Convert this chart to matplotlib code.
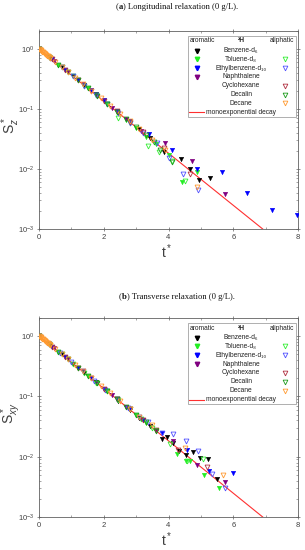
import numpy as np
import matplotlib.pyplot as plt
from matplotlib.patches import Rectangle
from matplotlib.ticker import FixedLocator

plt.rcParams['font.family'] = ['Liberation Sans', 'DejaVu Sans']
plt.rcParams['mathtext.fontset'] = 'custom'
plt.rcParams['mathtext.rm'] = 'Liberation Sans'
plt.rcParams['mathtext.it'] = 'Liberation Sans:italic'
plt.rcParams['mathtext.bf'] = 'Liberation Sans:bold'

# ---------------- data, panel (a): longitudinal ----------------
benzene_t_a = [0.0, 0.35, 0.7, 1.05, 1.4, 1.75, 2.1, 2.45, 2.8, 3.1, 3.43, 3.86, 4.38, 4.66, 4.94, 5.28]
benzene_s_a = [1.0, 0.70, 0.50, 0.35, 0.25, 0.175, 0.122, 0.087, 0.062, 0.046, 0.033, 0.019, 0.0147, 0.010, 0.0066, 0.0071]
toluene_t_a = [0.0, 0.3, 0.6, 0.9, 1.2, 1.5, 1.8, 2.1, 2.4, 2.7, 3.0, 3.3, 3.6, 4.0, 4.41, 4.88]
toluene_s_a = [1.0, 0.74, 0.55, 0.41, 0.30, 0.22, 0.165, 0.12, 0.09, 0.066, 0.048, 0.034, 0.026, 0.017, 0.006, 0.0089]
toluene_al_t_a = [0.0, 0.35, 0.7, 1.05, 1.4, 1.75, 2.1, 2.44, 2.8, 3.37, 3.7, 4.1, 4.5]
toluene_al_s_a = [1.0, 0.70, 0.50, 0.35, 0.245, 0.17, 0.12, 0.071, 0.058, 0.024, 0.019, 0.0135, 0.0063]
ethyl_t_a = [0.0, 0.4, 0.8, 1.2, 1.6, 2.0, 2.4, 2.8, 3.4, 4.1, 4.88, 5.65, 6.42, 7.19, 7.96]
ethyl_s_a = [1.0, 0.67, 0.45, 0.30, 0.205, 0.14, 0.093, 0.064, 0.038, 0.021, 0.010, 0.0089, 0.0040, 0.0021, 0.0017]
ethyl_al_t_a = [0.0, 0.35, 0.7, 1.05, 1.4, 1.75, 2.1, 2.45, 2.8, 3.2, 3.64, 4.0, 4.45, 4.9]
ethyl_al_s_a = [1.0, 0.70, 0.50, 0.35, 0.245, 0.17, 0.12, 0.085, 0.058, 0.040, 0.027, 0.015, 0.0083, 0.0045]
naph_t_a = [0.0, 0.45, 0.9, 1.35, 1.8, 2.25, 2.7, 3.15, 3.89, 4.72, 5.74]
naph_s_a = [1.0, 0.64, 0.41, 0.26, 0.165, 0.105, 0.068, 0.043, 0.027, 0.0135, 0.0038]
cyclo_t_a = [0.0, 0.4, 0.8, 1.2, 1.6, 2.0, 2.4, 2.8, 3.2, 3.85, 4.66]
cyclo_s_a = [1.0, 0.67, 0.45, 0.30, 0.20, 0.135, 0.092, 0.061, 0.041, 0.022, 0.0083]
decalin_t_a = [0.0, 0.3, 0.6, 0.9, 1.2, 1.5, 1.8, 2.1, 2.4, 2.7, 3.0, 3.3, 3.55, 3.75, 4.1]
decalin_s_a = [1.0, 0.74, 0.55, 0.41, 0.30, 0.22, 0.165, 0.12, 0.09, 0.067, 0.05, 0.037, 0.028, 0.021, 0.013]
decane_t_a = [0.0, 0.025, 0.05, 0.075, 0.1, 0.125, 0.15, 0.175, 0.2, 0.225, 0.25, 0.275, 0.3, 0.325, 0.35,
              0.5, 0.7, 0.9, 1.1, 1.35, 1.6, 1.9, 2.2, 2.5, 2.8, 3.1, 3.5, 3.9, 4.87]
decane_s_a = [1.0, 0.975, 0.951, 0.928, 0.905, 0.882, 0.861, 0.839, 0.819, 0.799, 0.779, 0.760, 0.741, 0.723, 0.705,
              0.61, 0.50, 0.41, 0.335, 0.26, 0.20, 0.15, 0.112, 0.083, 0.062, 0.046, 0.031, 0.021, 0.005]

# ---------------- data, panel (b): transverse ----------------
benzene_t_b = [0.0, 0.35, 0.7, 1.05, 1.4, 1.75, 2.1, 2.45, 2.8, 3.1, 3.43, 3.8, 3.95, 4.14, 4.32, 4.54, 4.75, 4.97, 5.22, 5.5]
benzene_s_b = [1.0, 0.70, 0.50, 0.35, 0.245, 0.172, 0.121, 0.085, 0.060, 0.044, 0.032, 0.020, 0.021, 0.017, 0.0126, 0.0107, 0.012, 0.0096, 0.0093, 0.0042]
toluene_t_b = [0.0, 0.3, 0.6, 0.9, 1.2, 1.5, 1.8, 2.1, 2.4, 2.7, 3.0, 3.3, 3.6, 4.26, 4.54, 4.66, 5.1, 5.56]
toluene_s_b = [1.0, 0.74, 0.55, 0.41, 0.30, 0.22, 0.165, 0.122, 0.09, 0.067, 0.049, 0.036, 0.028, 0.011, 0.0086, 0.0086, 0.005, 0.003]
toluene_al_t_b = [0.0, 0.35, 0.7, 1.05, 1.4, 1.75, 2.1, 2.45, 2.8, 3.15, 3.5, 4.04, 4.57, 5.06]
toluene_al_s_b = [1.0, 0.70, 0.50, 0.35, 0.245, 0.17, 0.122, 0.086, 0.061, 0.043, 0.030, 0.016, 0.0086, 0.0093]
ethyl_t_b = [0.0, 0.4, 0.8, 1.2, 1.6, 2.0, 2.4, 2.8, 3.2, 3.8, 4.57, 5.25, 5.99]
ethyl_s_b = [1.0, 0.67, 0.45, 0.30, 0.20, 0.135, 0.091, 0.061, 0.041, 0.025, 0.013, 0.0058, 0.0054]
ethyl_al_t_b = [0.0, 0.3, 0.65, 1.0, 1.35, 1.7, 2.05, 2.4, 2.75, 3.1, 3.38, 3.8, 4.14, 4.54, 4.92, 5.34, 5.74]
ethyl_al_s_b = [1.0, 0.74, 0.52, 0.37, 0.26, 0.183, 0.129, 0.091, 0.064, 0.045, 0.037, 0.025, 0.024, 0.018, 0.0126, 0.0052, 0.003]
naph_t_b = [0.0, 0.45, 0.9, 1.35, 1.8, 2.25, 2.7, 3.15, 3.6, 4.14, 4.88, 5.74]
naph_s_b = [1.0, 0.64, 0.41, 0.26, 0.165, 0.105, 0.067, 0.043, 0.027, 0.018, 0.0074, 0.0038]
cyclo_t_b = [0.0, 0.4, 0.8, 1.2, 1.6, 2.0, 2.4, 2.8, 3.2, 3.6, 4.29, 5.19]
cyclo_s_b = [1.0, 0.67, 0.45, 0.30, 0.20, 0.135, 0.091, 0.061, 0.041, 0.028, 0.013, 0.0068]
decalin_t_b = [0.0, 0.3, 0.6, 0.9, 1.2, 1.5, 1.8, 2.1, 2.4, 2.7, 3.0, 3.3, 3.6]
decalin_s_b = [1.0, 0.74, 0.55, 0.41, 0.30, 0.22, 0.165, 0.122, 0.091, 0.067, 0.050, 0.037, 0.027]
decane_t_b = [0.0, 0.025, 0.05, 0.075, 0.1, 0.125, 0.15, 0.175, 0.2, 0.225, 0.25, 0.275, 0.3, 0.325, 0.35,
              0.5, 0.7, 0.9, 1.1, 1.35, 1.6, 1.9, 2.2, 2.5, 2.8, 3.1, 3.5, 4.5, 5.68]
decane_s_b = [1.0, 0.975, 0.951, 0.928, 0.905, 0.882, 0.861, 0.839, 0.819, 0.799, 0.779, 0.760, 0.741, 0.723, 0.705,
              0.61, 0.50, 0.41, 0.335, 0.26, 0.20, 0.15, 0.112, 0.083, 0.062, 0.045, 0.033, 0.0141, 0.005]

# monoexponential decay exp(-t): straight on the log axis, given by its end points
mono_t = [0.0, 6.91]
mono_s = [1.0, 1.0e-3]

compounds = ['Benzene-d\u2086', 'Toluene-d\u2088', 'Ethylbenzene-d\u2081\u2080', 'Naphthalene',
             'Cyclohexane', 'Decalin', 'Decane']
aro_colors = ['black', '#22ee22', '#0000ff', '#800080', None, None, None]
ali_colors = [None, '#33ee33', '#5050ff', None, '#b03040', '#1a9a1a', '#ff9a30']

series_a = [(benzene_t_a, benzene_s_a, 'black', True),
            (toluene_t_a, toluene_s_a, '#22ee22', True),
            (ethyl_t_a, ethyl_s_a, '#0000ff', True),
            (naph_t_a, naph_s_a, '#800080', True),
            (toluene_al_t_a, toluene_al_s_a, '#33ee33', False),
            (ethyl_al_t_a, ethyl_al_s_a, '#5050ff', False),
            (cyclo_t_a, cyclo_s_a, '#b03040', False),
            (decalin_t_a, decalin_s_a, '#1a9a1a', False),
            (decane_t_a, decane_s_a, '#ff9a30', False)]
series_b = [(benzene_t_b, benzene_s_b, 'black', True),
            (toluene_t_b, toluene_s_b, '#22ee22', True),
            (ethyl_t_b, ethyl_s_b, '#0000ff', True),
            (naph_t_b, naph_s_b, '#800080', True),
            (toluene_al_t_b, toluene_al_s_b, '#33ee33', False),
            (ethyl_al_t_b, ethyl_al_s_b, '#5050ff', False),
            (cyclo_t_b, cyclo_s_b, '#b03040', False),
            (decalin_t_b, decalin_s_b, '#1a9a1a', False),
            (decane_t_b, decane_s_b, '#ff9a30', False)]

TXT = '#404040'
SPINE = '#606060'
W, H = 305, 550

fig = plt.figure(figsize=(W / 100, H / 100), dpi=100)
ax_a = fig.add_axes([39 / W, 1 - 229 / H, 259 / W, 198 / H])
ax_b = fig.add_axes([39 / W, 1 - 517 / H, 259 / W, 199 / H])


def draw_legend(ax):
    x0, x1 = 0.575, 0.992
    ytop = 1 - 4.7 / 198
    ybot = 1 - 86 / 198
    ax.add_patch(Rectangle((x0, ybot), x1 - x0, ytop - ybot, transform=ax.transAxes,
                           facecolor='white', edgecolor='#909090', lw=0.5, zorder=10))
    fs = 4.8
    yh = 1 - 10 / 198
    ax.text(0.631, yh, 'aromatic', transform=ax.transAxes, ha='center', va='center', fontsize=fs, color='#222222', zorder=11)
    ax.text(0.78, yh, '\u00b2H', transform=ax.transAxes, ha='center', va='center', fontsize=fs,
            fontweight='bold', color='#222222', zorder=11)
    ax.text(0.937, yh, 'aliphatic', transform=ax.transAxes, ha='center', va='center', fontsize=fs, color='#222222', zorder=11)
    for i, name in enumerate(compounds):
        y = 1 - (19.5 + 8.8 * i) / 198
        ax.text(0.78, y, name, transform=ax.transAxes, ha='center', va='center', fontsize=fs, color='#222222', zorder=11)
        if aro_colors[i]:
            ax.plot([0.611], [y], marker='v', ms=3.2, color=aro_colors[i], transform=ax.transAxes,
                    clip_on=False, zorder=11, linestyle='none')
        if ali_colors[i]:
            ax.plot([0.950], [y], marker='v', ms=3.4, mfc='none', mec=ali_colors[i], mew=0.6,
                    transform=ax.transAxes, clip_on=False, zorder=11, linestyle='none')
    y = 1 - (19.5 + 8.8 * 7) / 198
    ax.plot([0.579, 0.637], [y, y], color='#ff3030', lw=0.8, transform=ax.transAxes, zorder=11)
    ax.text(0.644, y, 'monoexponential decay', transform=ax.transAxes, ha='left', va='center',
            fontsize=fs, color='#222222', zorder=11)


def style_panel(ax, series, ylab):
    for t, s, c, filled in series:
        if filled:
            ax.plot(t, s, 'v', ms=3.3, color=c, mew=0.3, zorder=3)
        else:
            ax.plot(t, s, 'v', ms=3.5, mfc='none', mec=c, mew=0.6, zorder=4)
    ax.plot(mono_t, mono_s, color='#ff3030', lw=0.8, zorder=2)
    ax.set_yscale('log')
    ax.set_xlim(0, 8)
    ax.set_ylim(1e-3, 2)
    ax.set_xticks([0, 2, 4, 6, 8])
    ax.xaxis.set_minor_locator(FixedLocator([1, 3, 5, 7]))
    ax.tick_params(which='major', direction='inout', length=3, width=0.5, colors=SPINE,
                   labelcolor=TXT, labelsize=5.5, top=True, right=True)
    ax.tick_params(which='minor', direction='in', length=1.6, width=0.4, colors=SPINE, top=True, right=True)
    ax.tick_params(axis='y', which='major', pad=1.5)
    ax.tick_params(axis='x', which='major', pad=2)
    for sp in ax.spines.values():
        sp.set_color(SPINE)
        sp.set_linewidth(0.6)
    ax.text(0.494, -0.115, 't$^*$', transform=ax.transAxes, ha='center', va='center', fontsize=10, color=TXT)
    ax.text(-0.108, 0.52, ylab, transform=ax.transAxes, ha='center', va='center', rotation=90,
            fontsize=10, color=TXT)
    draw_legend(ax)


style_panel(ax_a, series_a, r'$\mathrm{S}_z^*$')
style_panel(ax_b, series_b, r'$\mathrm{S}_{xy}^*$')


def panel_title(x_px, y_px, letter, rest):
    fig.canvas.draw()
    r = fig.canvas.get_renderer()
    kw = dict(fontsize=6.2, family='Liberation Serif', va='center', color='#111111')
    t1 = fig.text(x_px / W, 1 - y_px / H, '(', **kw)
    e = t1.get_window_extent(r)
    t2 = fig.text(e.x1 / W, 1 - y_px / H, letter, fontweight='bold', **kw)
    e = t2.get_window_extent(r)
    fig.text(e.x1 / W, 1 - y_px / H, ') ' + rest, **kw)


panel_title(116, 7, 'a', 'Longitudinal relaxation (0 g/L).')
panel_title(119, 297, 'b', 'Transverse relaxation (0 g/L).')

fig.savefig('out.png', dpi=100)
